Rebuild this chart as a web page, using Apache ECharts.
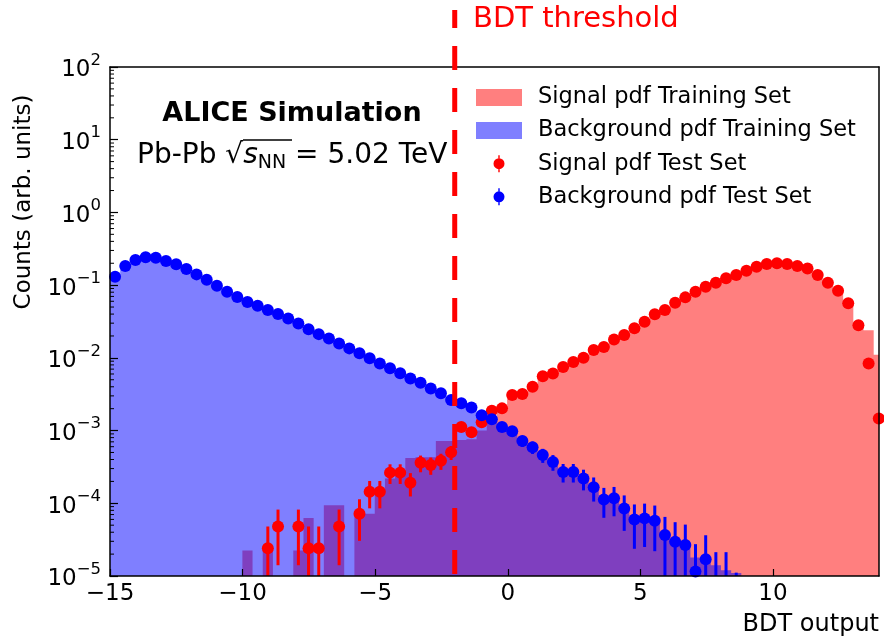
<!DOCTYPE html>
<html>
<head>
<meta charset="utf-8">
<script src="https://cdn.jsdelivr.net/npm/echarts@6/dist/echarts.min.js"></script>
<style>
  html, body { margin: 0; padding: 0; background: #fff; }
  #chart { width: 884px; height: 638px; }
</style>
</head>
<body>
<div id="chart"></div>
<script>
// BDT output binning
const binLow = -15;
const binWidth = 0.384;
const nBins = 76;
const threshold = -2.0;

// x tick labels and y decades
const xTicks = [-15, -10, -5, 0, 5, 10];
const yDecades = [-5, -4, -3, -2, -1, 0, 1, 2];

// Normalised counts per bin (76 bins)
const bkgTrain = [
  0.1306, 0.1832, 0.2213, 0.2410, 0.2382, 0.2148, 0.1932, 0.1663, 0.1406, 0.1186,
  0.0982, 0.0811, 0.0685, 0.0585, 0.0521, 0.0454, 0.0400, 0.0349, 0.0296, 0.0247,
  0.0212, 0.0185, 0.0158, 0.0135, 0.01153, 0.00984, 0.00839, 0.00718, 0.00612, 0.00522,
  0.00455, 0.00380, 0.00325, 0.00263, 0.00237, 0.00208, 0.00163, 0.00143, 0.00112, 9.8e-4,
  7.2e-4, 5.9e-4, 4.6e-4, 3.7e-4, 2.7e-4, 2.7e-4, 2.2e-4, 1.66e-4, 1.13e-4, 1.17e-4,
  8.5e-5, 6.0e-5, 6.2e-5, 5.75e-5, 3.66e-5, 2.95e-5, 2.67e-5, 1.8e-5, 1.7e-5, 1.4e-5,
  1.2e-5, 1.1e-5, 0, 0, 0, 0, 0, 0, 0, 0,
  0, 0, 0, 0, 0, 0
];
const bkgTest = [
  0.1306, 0.1832, 0.2213, 0.2410, 0.2382, 0.2148, 0.1932, 0.1663, 0.1406, 0.1186,
  0.0982, 0.0811, 0.0685, 0.0585, 0.0521, 0.0454, 0.0400, 0.0349, 0.0296, 0.0247,
  0.0212, 0.0185, 0.0158, 0.0135, 0.01153, 0.00984, 0.00839, 0.00718, 0.00612, 0.00522,
  0.00455, 0.00380, 0.00325, 0.00263, 0.00237, 0.00208, 0.00163, 0.00143, 0.00112, 9.8e-4,
  7.2e-4, 5.9e-4, 4.6e-4, 3.7e-4, 2.7e-4, 2.7e-4, 2.2e-4, 1.66e-4, 1.13e-4, 1.17e-4,
  8.5e-5, 6.0e-5, 6.2e-5, 5.75e-5, 3.66e-5, 2.95e-5, 2.67e-5, 1.15e-5, 1.7e-5, 8e-6,
  8e-6, 3e-6, 0, 0, 0, 0, 0, 0, 0, 0,
  0, 0, 0, 0, 0, 0
];
const sigTrain = [
  0, 0, 0, 0, 0, 0, 0, 0, 0, 0,
  0, 0, 0, 2.24e-5, 0, 2.24e-5, 0, 0, 2.24e-5, 6.3e-5,
  0, 9.4e-5, 9.4e-5, 0, 7.2e-5, 7.2e-5, 1.45e-4, 2.2e-4, 2.8e-4, 4.2e-4,
  4.3e-4, 4.3e-4, 7.2e-4, 7.2e-4, 7.4e-4, 7.6e-4, 1.0e-3, 1.4e-3, 1.9e-3, 3.08e-3,
  3.18e-3, 4.0e-3, 5.6e-3, 6.1e-3, 7.5e-3, 8.8e-3, 1.0e-2, 1.28e-2, 1.41e-2, 1.79e-2,
  2.06e-2, 2.55e-2, 3.14e-2, 3.98e-2, 4.54e-2, 5.73e-2, 6.79e-2, 8.11e-2, 9.5e-2, 0.108,
  0.124, 0.138, 0.158, 0.179, 0.195, 0.200, 0.195, 0.183, 0.170, 0.138,
  0.108, 0.0837, 0.0562, 0.0280, 0.024, 0.011
];
const sigTest = [
  0, 0, 0, 0, 0, 0, 0, 0, 0, 0,
  0, 0, 0, 0, 0, 2.4e-5, 4.8e-5, 0, 4.8e-5, 2.4e-5,
  2.4e-5, 0, 4.8e-5, 0, 7.2e-5, 1.44e-4, 1.44e-4, 2.64e-4, 2.64e-4, 1.92e-4,
  3.6e-4, 3.36e-4, 3.84e-4, 5.04e-4, 1.12e-3, 9.5e-4, 1.30e-3, 1.87e-3, 2.02e-3, 3.08e-3,
  3.18e-3, 4.0e-3, 5.6e-3, 6.1e-3, 7.5e-3, 8.8e-3, 1.0e-2, 1.28e-2, 1.41e-2, 1.79e-2,
  2.06e-2, 2.55e-2, 3.14e-2, 3.98e-2, 4.54e-2, 5.73e-2, 6.79e-2, 8.11e-2, 9.5e-2, 0.108,
  0.124, 0.138, 0.158, 0.179, 0.195, 0.200, 0.195, 0.183, 0.170, 0.138,
  0.108, 0.0837, 0.0562, 0.0280, 0.00839, 0.00147
];

// weight of one test entry (Poisson uncertainty per bin)
const sigWeight = 2.4e-5;
const bkgWeight = 2.2e-5;

const yMin = 1e-5, yMax = 1e2;
const FONT = 'DejaVu Sans';

function binCenter(i) { return binLow + binWidth * (i + 0.5); }

function stepFill(name, values, color, z) {
  return {
    name, type: 'custom', coordinateSystem: 'cartesian2d', clip: true, z,
    itemStyle: { color },
    data: [[binLow, yMin]],
    renderItem(params, api) {
      const pts = [api.coord([binLow, yMin])];
      values.forEach((v, i) => {
        const y = v > yMin ? v : yMin;
        const x0 = binLow + i * binWidth;
        pts.push(api.coord([x0, y]));
        pts.push(api.coord([x0 + binWidth, y]));
      });
      pts.push(api.coord([binLow + nBins * binWidth, yMin]));
      return { type: 'polygon', shape: { points: pts }, style: { fill: color } };
    }
  };
}

function testPoints(values) {
  const pts = [];
  values.forEach((v, i) => { if (v > 0) pts.push([binCenter(i), v]); });
  return pts;
}

function errorBars(name, values, weight, color, z) {
  const data = [];
  values.forEach((v, i) => {
    if (v > 0) {
      const e = Math.sqrt(v * weight);
      data.push([binCenter(i), v, Math.max(v - e, 1e-8), v + e]);
    }
  });
  return {
    name, type: 'custom', coordinateSystem: 'cartesian2d', clip: true, z,
    itemStyle: { color },
    encode: { x: 0, y: 1 },
    data,
    renderItem(params, api) {
      const lo = api.coord([api.value(0), api.value(2)]);
      const hi = api.coord([api.value(0), api.value(3)]);
      return {
        type: 'line',
        shape: { x1: lo[0], y1: lo[1], x2: hi[0], y2: hi[1] },
        style: { stroke: color, lineWidth: 3 }
      };
    }
  };
}

function signed(n) {
  return n < 0 ? '\u2212' + Math.abs(n) : String(n);
}

// circle with short vertical bars above and below: legend glyph for test-set points
const pointIcon = 'path://M5.3,0 L6.7,0 L6.7,3 L5.3,3 Z ' +
  'M0.5,8.5 A5.5,5.5 0 1 1 11.5,8.5 A5.5,5.5 0 1 1 0.5,8.5 Z ' +
  'M5.3,14 L6.7,14 L6.7,17 L5.3,17 Z';

const chart = echarts.init(document.getElementById('chart'), null, { renderer: 'canvas' });

const option = {
  animation: false,
  backgroundColor: '#fff',
  grid: { left: 110, right: 5, top: 67, bottom: 62, containLabel: false },
  legend: {
    orient: 'vertical', left: 476, top: 86, padding: 0,
    itemWidth: 46, itemHeight: 17, itemGap: 10.1,
    textStyle: { fontFamily: FONT, fontSize: 22.5, color: '#000', lineHeight: 20, padding: [0, 0, 0, 11] },
    selectedMode: false,
    data: [
      { name: 'Signal pdf Training Set', icon: 'rect' },
      { name: 'Background pdf Training Set', icon: 'rect' },
      { name: 'Signal pdf Test Set', icon: pointIcon },
      { name: 'Background pdf Test Set', icon: pointIcon }
    ]
  },
  xAxis: [{
    type: 'value', min: -15, max: 14, interval: 5, z: 10,
    axisLine: { show: true, onZero: false, lineStyle: { color: '#000', width: 1.5 } },
    axisTick: { show: true, inside: true, length: 7, lineStyle: { color: '#000', width: 1.2 } },
    axisLabel: {
      show: true, margin: 7, showMaxLabel: false, color: '#000',
      fontFamily: FONT, fontSize: 23,
      formatter: v => (xTicks.indexOf(v) >= 0 ? signed(v) : '')
    },
    splitLine: { show: false },
    name: 'BDT output', nameLocation: 'end', nameGap: 0,
    nameTextStyle: { fontFamily: FONT, fontSize: 24, color: '#000', align: 'right', verticalAlign: 'top', padding: [37, 0, 0, 0] }
  }, {
    type: 'value', min: -15, max: 14, position: 'top', z: 10,
    axisLine: { show: true, onZero: false, lineStyle: { color: '#000', width: 1.5 } },
    axisTick: { show: false }, axisLabel: { show: false }, splitLine: { show: false }
  }],
  yAxis: [{
    type: 'log', logBase: 10, min: yMin, max: yMax, splitNumber: 7, z: 10,
    axisLine: { show: true, onZero: false, lineStyle: { color: '#000', width: 1.5 } },
    axisTick: { show: true, inside: true, length: 8, lineStyle: { color: '#000', width: 1.2 } },
    axisLabel: {
      show: true, margin: 9, color: '#000',
      formatter: v => '{b|10}{e|' + signed(Math.round(Math.log10(v))) + '}',
      rich: {
        b: { fontFamily: FONT, fontSize: 23, color: '#000', lineHeight: 30, verticalAlign: 'bottom' },
        e: { fontFamily: FONT, fontSize: 16.5, color: '#000', lineHeight: 30, verticalAlign: 'top' }
      }
    },
    splitLine: { show: false }
  }, {
    type: 'log', logBase: 10, min: yMin, max: yMax, position: 'right', z: 10,
    axisLine: { show: true, onZero: false, lineStyle: { color: '#000', width: 1.5 } },
    axisTick: { show: false }, axisLabel: { show: false }, splitLine: { show: false }
  }],
  graphic: [
    {
      type: 'text', x: 24, y: 202, rotation: Math.PI / 2,
      style: { text: 'Counts (arb. units)', font: '23px "DejaVu Sans"', fill: '#000', align: 'center', verticalAlign: 'middle' }
    },
    {
      type: 'text', x: 292, y: 114,
      style: { text: 'ALICE Simulation', font: 'bold 27px "DejaVu Sans"', fill: '#000', align: 'center', verticalAlign: 'middle' }
    },
    {
      type: 'text', x: 137, y: 156,
      style: {
        text: '{n|Pb-Pb }{r|\u221A}{s|s}{u|NN}{n| = 5.02 TeV}',
        align: 'left', verticalAlign: 'middle',
        rich: {
          n: { fontFamily: FONT, fontSize: 28, fill: '#000', lineHeight: 34 },
          r: { fontFamily: FONT, fontSize: 28, fill: '#000', lineHeight: 34 },
          s: { fontFamily: FONT, fontStyle: 'italic', fontSize: 28, fill: '#000', lineHeight: 34 },
          u: { fontFamily: FONT, fontSize: 19, fill: '#000', lineHeight: 34, verticalAlign: 'bottom', padding: [13, 0, 0, 0] }
        }
      }
    },
    {
      type: 'line', shape: { x1: 243, y1: 140, x2: 292, y2: 140 },
      style: { stroke: '#000', lineWidth: 1.4 }
    },
    {
      type: 'text', x: 473, y: 19,
      style: { text: 'BDT threshold', font: '29px "DejaVu Sans"', fill: '#ff0000', align: 'left', verticalAlign: 'middle' }
    }
  ],
  series: [
    stepFill('Signal pdf Training Set', sigTrain, 'rgba(255,0,0,0.5)', 1),
    stepFill('Background pdf Training Set', bkgTrain, 'rgba(0,0,255,0.5)', 2),
    errorBars('Signal pdf Test Set', sigTest, sigWeight, '#ff0000', 3),
    {
      name: 'Signal pdf Test Set', type: 'scatter', z: 3, clip: true,
      symbol: 'circle', symbolSize: 12,
      itemStyle: { color: '#ff0000', opacity: 1 },
      data: testPoints(sigTest)
    },
    errorBars('Background pdf Test Set', bkgTest, bkgWeight, '#0000ff', 4),
    {
      name: 'Background pdf Test Set', type: 'scatter', z: 4, clip: true,
      symbol: 'circle', symbolSize: 12,
      itemStyle: { color: '#0000ff', opacity: 1 },
      data: testPoints(bkgTest)
    },
    {
      // minor ticks of the log axis at 2..9 x 10^n
      type: 'custom', coordinateSystem: 'cartesian2d', clip: false, z: 11, silent: true,
      data: [[binLow, 1]],
      renderItem(params, api) {
        const children = [];
        yDecades.slice(0, -1).forEach(d => {
          for (let k = 2; k <= 9; k++) {
            const p = api.coord([-15, k * Math.pow(10, d)]);
            children.push({ type: 'line', shape: { x1: p[0], y1: p[1], x2: p[0] + 4, y2: p[1] },
              style: { stroke: '#000', lineWidth: 1 } });
          }
        });
        return { type: 'group', children };
      }
    },
    {
      // decision threshold on the BDT output
      type: 'custom', coordinateSystem: 'cartesian2d', clip: false, z: 12, silent: true,
      data: [[threshold, yMin]],
      renderItem(params, api) {
        const b = api.coord([api.value(0), yMin]);
        return {
          type: 'line',
          shape: { x1: b[0], y1: b[1] - 2, x2: b[0], y2: 10 },
          style: { stroke: '#ff0000', lineWidth: 5, lineDash: [24, 18] }
        };
      }
    }
  ]
};

chart.setOption(option);
</script>
</body>
</html>
